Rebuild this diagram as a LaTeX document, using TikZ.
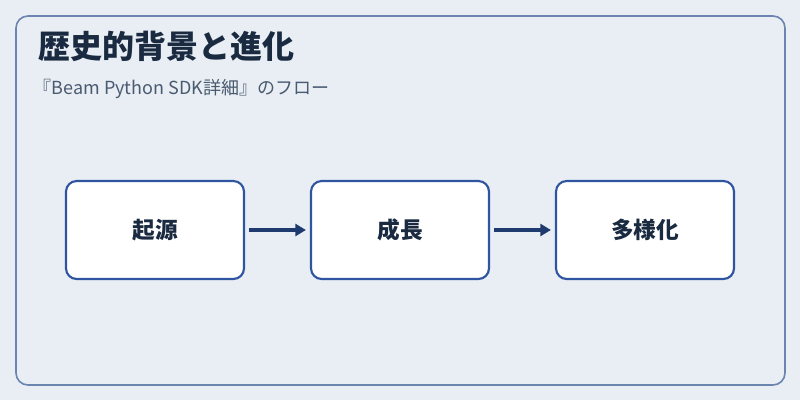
\documentclass[tikz,border=0pt]{standalone}
\usepackage{fontspec}
\setmainfont{Noto Sans CJK JP}
\usetikzlibrary{arrows.meta}
\definecolor{bgcol}{HTML}{E8EEF3}
\definecolor{framecol}{HTML}{6B84B0}
\definecolor{boxcol}{HTML}{2F54A0}
\definecolor{arrcol}{HTML}{1F3A6E}
\definecolor{titlecol}{HTML}{1A2A40}
\definecolor{subcol}{HTML}{4A5A70}
\tikzset{
  stage/.style={draw=boxcol, line width=1.6pt, fill=white, rounded corners=8pt,
    minimum width=133.5pt, minimum height=73.5pt, font=\bfseries\fontsize{17}{19}\selectfont, text=titlecol},
  flow/.style={-{Triangle[length=8pt,width=9pt]}, draw=arrcol, line width=2.8pt}
}
\begin{document}
\begin{tikzpicture}[x=0.75pt, y=-0.75pt]
  \useasboundingbox[fill=bgcol] (0,0) rectangle (800,400);
  % Frame
  \draw[framecol, line width=1.2pt, rounded corners=9pt] (16,16) rectangle (785,385);
  % Title
  \node[anchor=west, text=titlecol, font=\bfseries\fontsize{24}{28}\selectfont] (title) at (34,46) {歴史的背景と進化};
  \node[anchor=west, text=subcol, font=\fontsize{13.5}{16}\selectfont] (sub) at (29,89) {『Beam Python SDK詳細』のフロー};
  % Stages
  \node[stage] (Origin) at (155,230) {起源};
  \node[stage] (Growth) at (400,230) {成長};
  \node[stage] (Divers) at (645,230) {多様化};
  % Connections
  \draw[flow] (Origin.east) ++(4,0) -- ([xshift=-3pt]Growth.west);
  \draw[flow] (Growth.east) ++(4,0) -- ([xshift=-3pt]Divers.west);
\end{tikzpicture}
\end{document}
